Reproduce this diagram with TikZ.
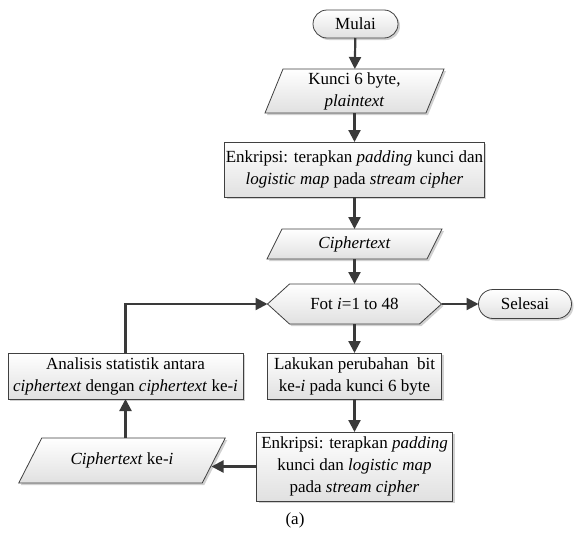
\documentclass[tikz,border=0pt]{standalone}
\usepackage{fontspec}
\setmainfont{Liberation Serif}
\usetikzlibrary{arrows.meta,shapes.misc,shadows,calc}
\definecolor{edge}{HTML}{404040}
\definecolor{line}{HTML}{3A3A3A}
\pgfdeclarelayer{bg}
\pgfsetlayers{bg,main}
\tikzset{
  lbl/.style={font=\fontsize{17}{22}\selectfont, align=center, inner sep=1pt, outer sep=0pt},
  shapefill/.style={draw=edge, line width=0.8pt, top color=white, bottom color=black!12,
    drop shadow={shadow xshift=2pt, shadow yshift=-2pt, fill=black!30, opacity=0.6}},
  box/.style={lbl, shape=rectangle, shapefill},
  term/.style={lbl, shape=rounded rectangle, shapefill},
  txt/.style={lbl, shape=rectangle},
  arr/.style={draw=line, line width=2.2pt, -{Triangle[length=12pt,width=12pt]}},
}
\newcommand{\paraframe}[2]{%
  \begin{pgfonlayer}{bg}
  \path[shapefill] ([xshift=#2pt]#1.north west) -- ([xshift=#2pt]#1.north east)
    -- ([xshift=-#2pt]#1.south east) -- ([xshift=-#2pt]#1.south west) -- cycle;
  \end{pgfonlayer}}
\begin{document}
\begin{tikzpicture}[x=1pt,y=-1pt]
\useasboundingbox (0,0) rectangle (575,533);
% nodes
\node[term, minimum width=87pt, minimum height=28pt] (start) at (355.5,24) {Mulai};
\node[txt, minimum width=161pt, minimum height=44pt] (kunci) at (354.5,91) {Kunci 6 byte,\\\textit{plaintext}};
\paraframe{kunci}{9}
\node[box, minimum width=195pt, minimum height=55pt] (enk1) at (354.5,169.5) {Enkripsi: terapkan \textit{padding} kunci dan\\\textit{logistic map} pada \textit{stream cipher}};
\node[txt, minimum width=160pt, minimum height=30pt] (ct) at (354.5,244) {\textit{Ciphertext}};
\paraframe{ct}{7.5}
\node[txt, minimum width=174pt, minimum height=40pt] (loop) at (354.5,304) {Fot \textit{i}=1 to 48};
\begin{pgfonlayer}{bg}
\path[shapefill] (loop.west) -- ([xshift=22pt]loop.north west) -- ([xshift=-22pt]loop.north east)
  -- (loop.east) -- ([xshift=-22pt]loop.south east) -- ([xshift=22pt]loop.south west) -- cycle;
\end{pgfonlayer}
\node[term, minimum width=95pt, minimum height=29pt] (end) at (525,304) {Selesai};
\node[box, minimum width=235pt, minimum height=46pt] (ana) at (125.5,376) {Analisis statistik antara\\\textit{ciphertext} dengan \textit{ciphertext} ke-\textit{i}};
\node[box, minimum width=174pt, minimum height=46pt] (lak) at (354.5,376) {Lakukan perubahan\ \ bit\\ke-\textit{i} pada kunci 6 byte};
\node[box, minimum width=196pt, minimum height=69pt] (enk2) at (354.5,466.5) {Enkripsi: terapkan \textit{padding}\\kunci dan \textit{logistic map}\\pada \textit{stream cipher}};
\node[txt, minimum width=183.5pt, minimum height=45pt] (cki) at (122,460.5) {\textit{Ciphertext} ke-\textit{i}};
\paraframe{cki}{11.5}
\node[lbl] (cap) at (295,520) {(a)};
\coordinate (ckin) at (211.5,466.5);
% connectors
\draw[arr] (start) -- (kunci);
\draw[arr] (kunci) -- (enk1);
\draw[arr] (enk1) -- (ct);
\draw[arr] (ct) -- (loop);
\draw[arr] (loop.east) -- (loop.east -| end.west);
\draw[arr] (loop) -- (lak);
\draw[arr] (lak) -- (enk2);
\draw[arr] (enk2.west) -- (ckin);
\draw[arr] (cki.north -| ana.south) -- (ana.south);
\draw[arr] (ana.north) |- (loop.west);
\end{tikzpicture}
\end{document}
